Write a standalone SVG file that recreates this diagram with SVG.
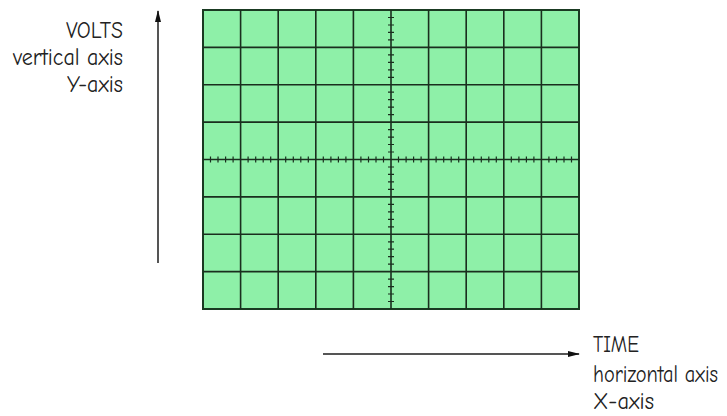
<svg xmlns="http://www.w3.org/2000/svg" width="727" height="416" viewBox="0 0 727 416">
<defs>
<style>
.lbl{font-family:"Comic Neue","Liberation Sans",Arial,sans-serif;font-size:24px;fill:#222}
.grid{stroke:#1a2e1e;stroke-width:1.6;fill:none}
.tick{stroke:#1a2e1e;stroke-width:1.2;fill:none}
.ax{stroke:#555;stroke-width:2;fill:none}
</style>
<marker id="ah" viewBox="0 0 12 8" refX="11" refY="4" markerWidth="12" markerHeight="8" markerUnits="userSpaceOnUse" orient="auto">
<path d="M0,1 L12,4 L0,7 Z" fill="#111"/>
</marker>
</defs>
<rect width="727" height="416" fill="#fff"/>
<g id="screen">
<rect x="203" y="10" width="376" height="299" fill="#8ef0a8" stroke="#1a3a22" stroke-width="2"/>
<path class="grid" d="M240.6,10V309M278.2,10V309M315.8,10V309M353.4,10V309M391,10V309M428.6,10V309M466.2,10V309M503.8,10V309M541.4,10V309M203,47.4H579M203,84.8H579M203,122.1H579M203,159.5H579M203,196.9H579M203,234.3H579M203,271.6H579"/>
<path class="tick" d="M210.5,156.5v6M218,156.5v6M225.6,156.5v6M233.1,156.5v6M248.1,156.5v6M255.7,156.5v6M263.2,156.5v6M270.7,156.5v6M285.7,156.5v6M293.3,156.5v6M300.8,156.5v6M308.3,156.5v6M323.3,156.5v6M330.9,156.5v6M338.4,156.5v6M345.9,156.5v6M360.9,156.5v6M368.5,156.5v6M376,156.5v6M383.5,156.5v6M398.5,156.5v6M406.1,156.5v6M413.6,156.5v6M421.1,156.5v6M436.1,156.5v6M443.7,156.5v6M451.2,156.5v6M458.7,156.5v6M473.7,156.5v6M481.3,156.5v6M488.8,156.5v6M496.3,156.5v6M511.3,156.5v6M518.9,156.5v6M526.4,156.5v6M533.9,156.5v6M548.9,156.5v6M556.5,156.5v6M564,156.5v6M571.5,156.5v6"/>
<path class="tick" d="M388,17.5h6M388,25h6M388,32.4h6M388,39.9h6M388,54.9h6M388,62.3h6M388,69.8h6M388,77.3h6M388,92.2h6M388,99.7h6M388,107.2h6M388,114.6h6M388,129.6h6M388,137.1h6M388,144.5h6M388,152h6M388,167h6M388,174.4h6M388,181.9h6M388,189.4h6M388,204.4h6M388,211.8h6M388,219.3h6M388,226.8h6M388,241.8h6M388,249.2h6M388,256.7h6M388,264.1h6M388,279.1h6M388,286.6h6M388,294h6M388,301.5h6"/>
</g>
<g id="connectors">
<line class="ax" x1="158" y1="263" x2="158" y2="11" marker-end="url(#ah)"/>
<line class="ax" x1="323" y1="354" x2="579" y2="354" marker-end="url(#ah)"/>
</g>
<g id="y-label">
<text class="lbl" x="123" y="38" text-anchor="end" textLength="57" lengthAdjust="spacingAndGlyphs">VOLTS</text>
<text class="lbl" x="123" y="65" text-anchor="end" textLength="110" lengthAdjust="spacingAndGlyphs">vertical axis</text>
<text class="lbl" x="123" y="92" text-anchor="end" textLength="56" lengthAdjust="spacingAndGlyphs">Y-axis</text>
</g>
<g id="x-label">
<text class="lbl" x="593" y="352" textLength="46" lengthAdjust="spacingAndGlyphs">TIME</text>
<text class="lbl" x="593" y="382" font-size="20" textLength="125" lengthAdjust="spacingAndGlyphs">horizontal axis</text>
<text class="lbl" x="593" y="409" font-size="22" textLength="61" lengthAdjust="spacingAndGlyphs">X-axis</text>
</g>
</svg>
